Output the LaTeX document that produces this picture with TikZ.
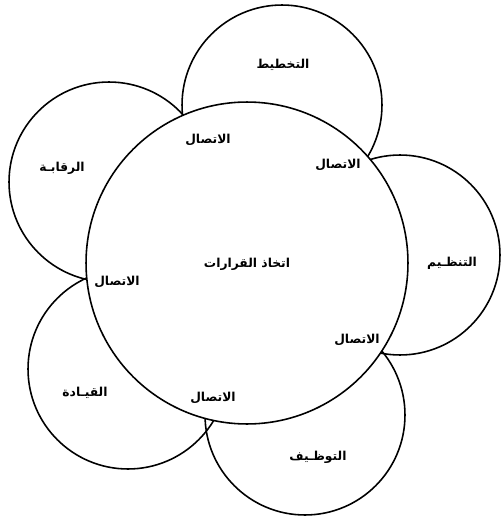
\documentclass[tikz,border=0pt]{standalone}
\usepackage{fontspec}
\newfontfamily\arabicfont[Script=Arabic]{DejaVu Sans}
\TeXXeTstate=1

\begin{document}
\begin{tikzpicture}[x=0.02cm, y=-0.02cm, every node/.style={font=\arabicfont\bfseries\fontsize{7}{9}\selectfont}, ring/.style={draw,circle,line width=0.9pt,minimum size=4cm,inner sep=0pt}, hub/.style={draw,circle,fill=white,line width=0.9pt,minimum size=6.44cm,inner sep=0pt}]
\useasboundingbox (0,0) rectangle (501,517);
% outer functions
\node[ring] (plan) at (282,105) {};
\node[ring] (org) at (400,255) {};
\node[ring] (staff) at (305,415) {};
\node[ring] (lead) at (128,369) {};
\node[ring] (ctrl) at (109,182) {};
% decision making in the middle
\node[hub] (dec) at (247,263) {};
\node (decl) at (247,264) {\beginR اتخاذ القرارات\endR};
\node (planl) at (283,65) {\beginR التخطيط\endR};
\node (orgl) at (452,263) {\beginR التنظـيم\endR};
\node (staffl) at (318,457) {\beginR التوظـيف\endR};
\node (leadl) at (85,393) {\beginR القيـادة\endR};
\node (ctrll) at (62,168) {\beginR الرقابـة\endR};
% communication
\node (c1) at (208,140) {\beginR الاتصال\endR};
\node (c2) at (338,165) {\beginR الاتصال\endR};
\node (c3) at (357,340) {\beginR الاتصال\endR};
\node (c4) at (213,398) {\beginR الاتصال\endR};
\node (c5) at (117,282) {\beginR الاتصال\endR};
\end{tikzpicture}
\end{document}
